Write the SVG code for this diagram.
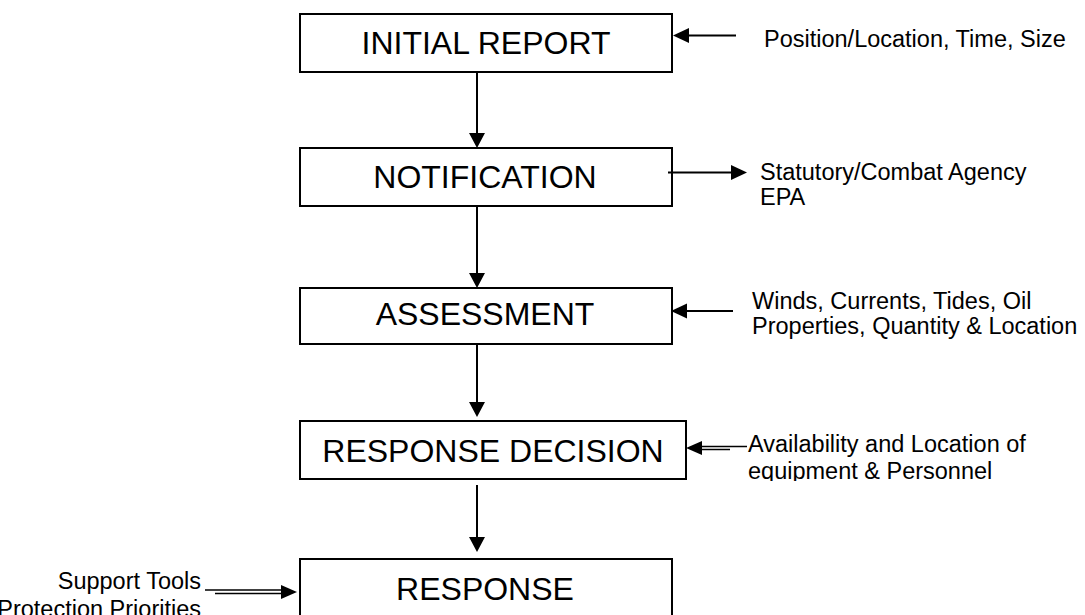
<svg xmlns="http://www.w3.org/2000/svg" width="1085" height="615" viewBox="0 0 1085 615">
<style>
.box{fill:#fff;stroke:#000;stroke-width:2}
.big{font-family:"Liberation Sans",Arial,sans-serif;font-size:32px;fill:#000;text-anchor:middle}
.small{font-family:"Liberation Sans",Arial,sans-serif;font-size:23.5px;fill:#000}
.ln{stroke:#000;stroke-width:2;fill:none}
.ln1{stroke:#000;stroke-width:1.5;fill:none}
.head{fill:#000}
</style>
<defs>
<clipPath id="clipAvail"><rect x="740" y="425" width="345" height="56"/></clipPath>
</defs>
<rect width="1085" height="615" fill="#fff"/>
<g id="initial-report">
<rect class="box" x="300" y="14" width="372" height="58"/>
<text class="big" x="486" y="54">INITIAL REPORT</text>
</g>
<g id="notification">
<rect class="box" x="300" y="148" width="372" height="58"/>
<text class="big" x="485" y="188">NOTIFICATION</text>
</g>
<g id="assessment">
<rect class="box" x="300" y="288" width="372" height="56"/>
<text class="big" x="485" y="325">ASSESSMENT</text>
</g>
<g id="response-decision">
<rect class="box" x="300" y="421" width="386" height="58"/>
<text class="big" x="493" y="462">RESPONSE DECISION</text>
</g>
<g id="response">
<rect class="box" x="300" y="559" width="372" height="70"/>
<text class="big" x="485" y="600">RESPONSE</text>
</g>
<g id="labels">
<text class="small" x="764" y="47">Position/Location, Time, Size</text>
<text class="small" x="760" y="180">Statutory/Combat Agency</text>
<text class="small" x="760" y="205">EPA</text>
<text class="small" x="752" y="309">Winds, Currents, Tides, Oil</text>
<text class="small" x="752" y="334">Properties, Quantity &amp; Location</text>
<g clip-path="url(#clipAvail)">
<text class="small" x="748" y="452">Availability and Location of</text>
<text class="small" x="748" y="479">equipment &amp; Personnel</text>
</g>
<text class="small" x="201" y="589" text-anchor="end">Support Tools</text>
<text class="small" x="201" y="617" text-anchor="end">Protection Priorities</text>
</g>
<g id="connectors">
<line class="ln" x1="477" y1="72" x2="477" y2="134"/>
<polygon class="head" points="469,133 485,133 477,148"/>
<line class="ln" x1="477" y1="206" x2="477" y2="274"/>
<polygon class="head" points="469,273 485,273 477,288"/>
<line class="ln" x1="477" y1="344" x2="477" y2="403"/>
<polygon class="head" points="469,402 485,402 477,417"/>
<line class="ln" x1="477" y1="485" x2="477" y2="538"/>
<polygon class="head" points="469,537 485,537 477,552"/>
<line class="ln" x1="736" y1="35.5" x2="686" y2="35.5"/>
<polygon class="head" points="673,35.5 689,28 689,43"/>
<line class="ln" x1="668" y1="172.5" x2="734" y2="172.5"/>
<polygon class="head" points="747,172.5 731,165 731,180"/>
<line class="ln" x1="733" y1="311" x2="684" y2="311"/>
<polygon class="head" points="671,311 687,303.5 687,318.5"/>
<line class="ln1" x1="747" y1="446.5" x2="698" y2="446.5"/>
<line class="ln1" x1="730" y1="449.5" x2="698" y2="449.5"/>
<polygon class="head" points="686,448 702,441 702,455"/>
<line class="ln1" x1="205" y1="590" x2="284" y2="590"/>
<line class="ln1" x1="215" y1="593.5" x2="284" y2="593.5"/>
<polygon class="head" points="297,592 281,585 281,599"/>
</g>
</svg>
